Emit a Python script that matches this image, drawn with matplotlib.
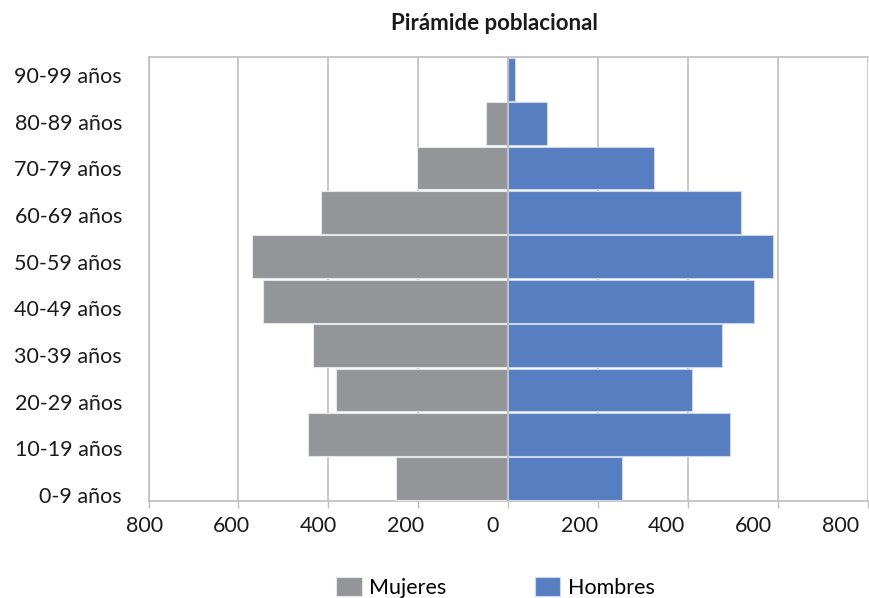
import numpy as np
import matplotlib
matplotlib.use("Agg")
import matplotlib.pyplot as plt
from matplotlib.transforms import ScaledTranslation

plt.rcParams['font.family'] = ['Lato', 'DejaVu Sans']

# Data
grupos = ['0-9 años', '10-19 años', '20-29 años', '30-39 años', '40-49 años',
          '50-59 años', '60-69 años', '70-79 años', '80-89 años', '90-99 años']
mujeres = [250, 445, 383, 435, 545, 569, 416, 202, 50, 3]
hombres = [253, 494, 409, 475, 546, 589, 518, 324, 87, 16]
xticks = [-800, -600, -400, -200, 0, 200, 400, 600, 800]

gris = '#939598'
azul = '#567EC1'
linea = '#BFBFBF'
texto = '#1a1a1a'

fig = plt.figure(figsize=(8.69, 5.98), dpi=100)
ax = fig.add_axes([148.5 / 869, 1 - 501 / 598, (868 - 148.5) / 869, (501 - 57) / 598])

y = np.arange(len(grupos))
ax.barh(y, [-v for v in mujeres], height=0.96, color=gris, edgecolor='#E6E6E6',
        linewidth=0.8, label='Mujeres', zorder=3)
ax.barh(y, hombres, height=0.96, color=azul, edgecolor='#C9D6EC',
        linewidth=0.8, label='Hombres', zorder=3)

ax.set_xlim(-800, 800)
ax.set_ylim(-0.5, len(grupos) - 0.5)
ax.set_xticks(xticks)
ax.set_xticklabels([str(abs(v)) for v in xticks])
ax.set_yticks(y)
ax.set_yticklabels(grupos)
ax.tick_params(axis='y', length=0, pad=19, labelsize=15.5, labelcolor=texto)
ax.tick_params(axis='x', length=5, width=1, color=linea, pad=6, labelsize=15.5,
               labelcolor=texto)

# the original labels are spread a bit differently from the grid (Excel quirk)
px = 72 / 100
for lbl, t in zip(ax.get_xticklabels(), xticks):
    dx = -4 - 0.033 * (t + 800) * 0.45
    lbl.set_transform(lbl.get_transform() + ScaledTranslation(dx * px / 72, 0, fig.dpi_scale_trans))
n = len(grupos)
for lbl, i in zip(ax.get_yticklabels(), y):
    dy = -4 + 20 * (n - 1 - i) / (n - 1)
    lbl.set_transform(lbl.get_transform() + ScaledTranslation(0, -dy * px / 72, fig.dpi_scale_trans))

ax.grid(axis='x', color=linea, linewidth=1.2, zorder=0)
ax.axvline(0, color=linea, linewidth=1.5, zorder=4)
for s in ['top', 'bottom', 'left']:
    ax.spines[s].set_color(linea)
    ax.spines[s].set_linewidth(1.2)
ax.spines['right'].set_visible(False)

fig.text(0.569, 0.96, 'Pirámide poblacional', ha='center', va='center',
         fontsize=16, fontweight='bold', color=texto)

fig.legend(loc='center', bbox_to_anchor=(0.57, 0.018), ncol=2, frameon=False,
           fontsize=15.5, handlelength=1.2, handleheight=1.0, handletextpad=0.35,
           columnspacing=4.1)

fig.savefig('out.png', dpi=100)
